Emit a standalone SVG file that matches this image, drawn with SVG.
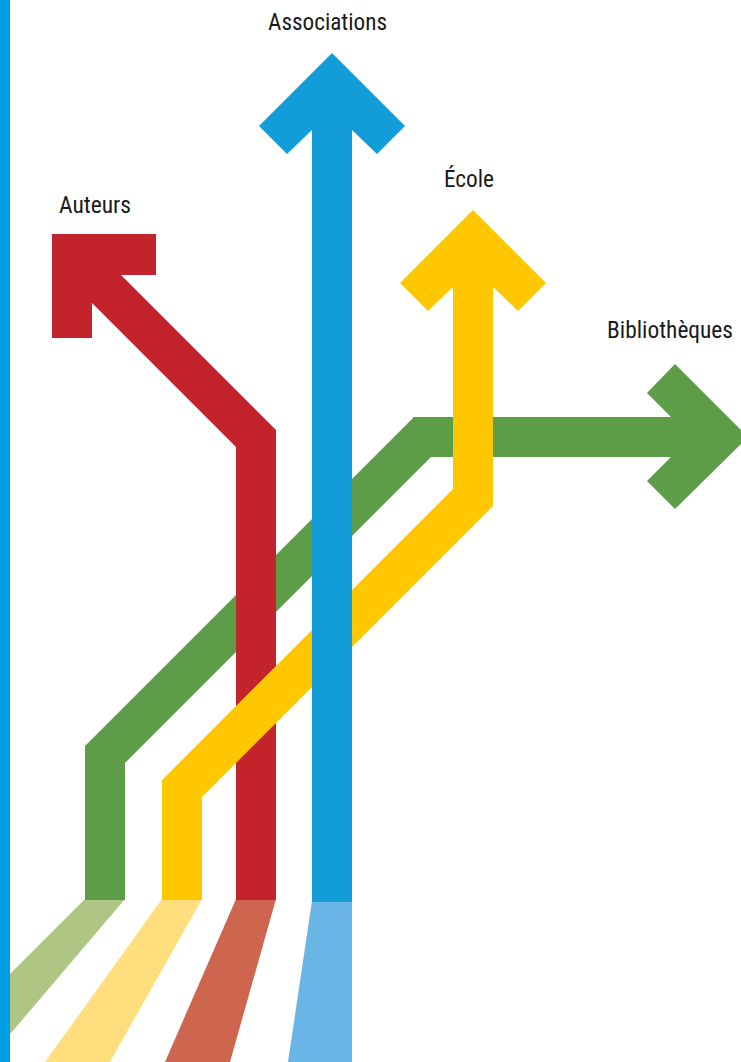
<svg xmlns="http://www.w3.org/2000/svg" width="741" height="1062" viewBox="0 0 741 1062">
  <style>
    .lbl { font-family: "Liberation Sans Narrow", "Roboto Condensed", "DejaVu Sans Condensed", "Liberation Sans", sans-serif; font-stretch: condensed; font-size: 24px; fill: #1a1a1a; }
  </style>
  <g id="connectors">
    <g id="shadows">
      <polygon points="85,899 125,899 0,1046 0,984" fill="#AEC584"/>
      <polygon points="162,899 202,899 110,1062 45,1062" fill="#FFDF7D"/>
      <polygon points="236,899 276,899 230,1062 165,1062" fill="#CE654F"/>
      <polygon points="312,901 352,901 352,1062 288,1062" fill="#69B5E6"/>
    </g>
    <polygon id="line-bibliotheques" points="85,900 85,746 414,417 671,417 647,393 675,364 748,437 675,509 647,481 671,457 431,457 125,763 125,900" fill="#5D9D48"/>
    <polygon id="line-auteurs" points="52,234 156,234 156,275 121,275 276,430 276,900 236,900 236,447 92,303 92,338 52,338" fill="#C3232A"/>
    <polygon id="line-ecole" points="162,900 162,780 453,489 453,287 428,311 400,283 473,210 546,283 518,311 493,287 493,506 202,797 202,900" fill="#FFC700"/>
    <polygon id="line-associations" points="332,53 405,126 377,154 352,130 352,902 312,902 312,130 287,154 259,126" fill="#129DD9"/>
  </g>
  <rect id="left-bar" x="0" y="0" width="10" height="1062" fill="#009FE3"/>
  <g id="node-associations"><text class="lbl" x="268" y="30" textLength="119" lengthAdjust="spacingAndGlyphs">Associations</text></g>
  <g id="node-auteurs"><text class="lbl" x="59" y="213" textLength="72" lengthAdjust="spacingAndGlyphs">Auteurs</text></g>
  <g id="node-ecole"><text class="lbl" x="444" y="187" textLength="50" lengthAdjust="spacingAndGlyphs">École</text></g>
  <g id="node-bibliotheques"><text class="lbl" x="607" y="338" textLength="126" lengthAdjust="spacingAndGlyphs">Bibliothèques</text></g>
</svg>
